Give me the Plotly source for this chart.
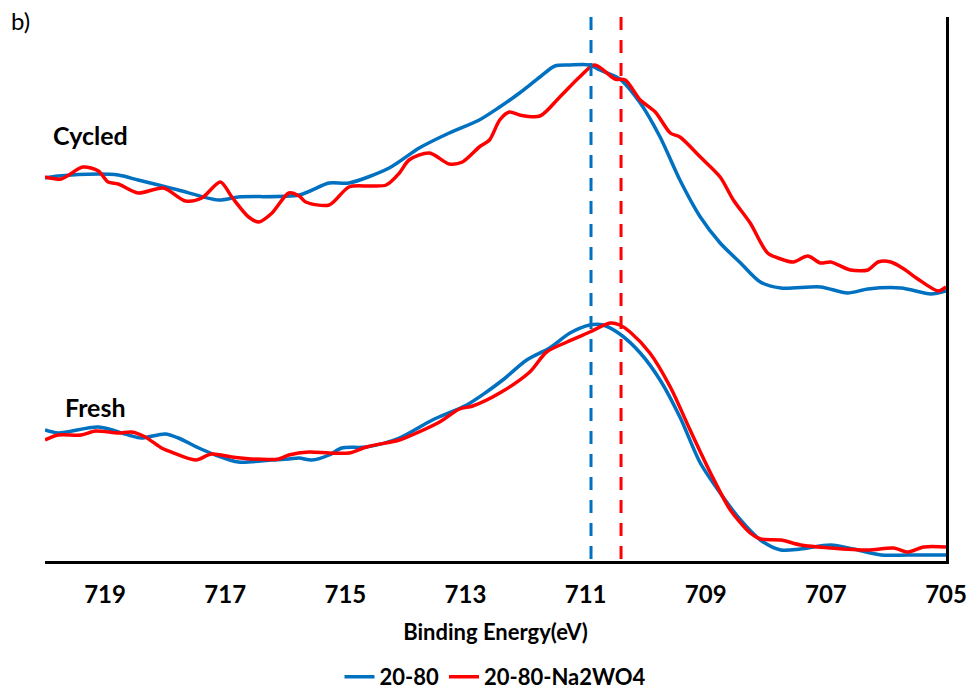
import plotly.graph_objects as go

# Fe 2p3/2 region, binding energy (eV) vs normalized intensity (a.u., offset stacks)
cycled_2080_be = [720.00, 719.78, 719.11, 718.78, 718.45, 718.11, 717.78, 717.11, 716.78,
                  715.77, 715.27, 714.94, 714.27, 713.77, 713.27, 712.77, 712.43, 712.10,
                  711.76, 711.51, 711.26, 710.93, 710.76, 710.43, 710.09, 709.76, 709.43,
                  709.09, 708.76, 708.42, 708.09, 707.75, 707.09, 706.64, 706.30, 705.75,
                  705.25, 705.00]
cycled_2080_int = [3.84, 3.86, 3.88, 3.87, 3.82, 3.77, 3.72, 3.62, 3.65,
                   3.67, 3.79, 3.79, 3.94, 4.14, 4.29, 4.42, 4.55, 4.69,
                   4.85, 4.96, 4.97, 4.97, 4.92, 4.83, 4.59, 4.25, 3.82,
                   3.45, 3.19, 2.99, 2.80, 2.74, 2.75, 2.69, 2.73, 2.74,
                   2.68, 2.71]

cycled_na_be = [720.00, 719.73, 719.37, 719.11, 718.95, 718.78, 718.45, 718.03, 717.66,
                717.39, 717.08, 716.89, 716.61, 716.44, 716.22, 715.94, 715.77, 715.66,
                715.27, 714.94, 714.60, 714.32, 714.10, 713.94, 713.60, 713.27, 713.05,
                712.77, 712.60, 712.43, 712.27, 712.10, 711.76, 711.43, 711.10, 710.85,
                710.51, 710.34, 710.09, 709.84, 709.59, 709.43, 709.09, 708.76, 708.54,
                708.26, 707.97, 707.75, 707.54, 707.30, 707.09, 706.92, 706.59, 706.30,
                706.13, 705.92, 705.70, 705.47, 705.13, 705.00]
cycled_na_int = [3.85, 3.83, 3.95, 3.91, 3.80, 3.78, 3.69, 3.74, 3.61,
                 3.64, 3.80, 3.65, 3.45, 3.40, 3.49, 3.69, 3.66, 3.60,
                 3.57, 3.75, 3.76, 3.77, 3.89, 4.02, 4.09, 3.98, 4.00,
                 4.15, 4.22, 4.42, 4.50, 4.47, 4.46, 4.65, 4.85, 4.97,
                 4.83, 4.82, 4.62, 4.50, 4.29, 4.25, 4.05, 3.85, 3.62,
                 3.39, 3.09, 3.03, 3.00, 3.06, 2.99, 3.00, 2.92, 2.92,
                 3.00, 3.00, 2.93, 2.83, 2.71, 2.75]

fresh_2080_be = [720.00, 719.78, 719.11, 718.61, 718.40, 718.00, 717.78, 717.44, 717.16,
                 716.78, 716.22, 715.94, 715.77, 715.56, 715.27, 715.06, 714.65, 714.10,
                 713.55, 712.98, 712.65, 712.38, 711.98, 711.60, 711.26, 710.93, 710.71,
                 710.43, 710.09, 709.76, 709.43, 709.09, 708.76, 708.42, 708.09, 707.75,
                 707.42, 706.92, 706.54, 706.08, 705.63, 705.00]
fresh_2080_int = [1.32, 1.29, 1.35, 1.27, 1.24, 1.28, 1.24, 1.14, 1.07,
                  1.00, 1.02, 1.03, 1.04, 1.02, 1.07, 1.14, 1.15, 1.24,
                  1.42, 1.57, 1.70, 1.82, 2.02, 2.14, 2.29, 2.37, 2.37,
                  2.28, 2.09, 1.82, 1.45, 0.99, 0.69, 0.42, 0.22, 0.12,
                  0.13, 0.17, 0.13, 0.07, 0.07, 0.07]

fresh_na_be = [720.00, 719.78, 719.40, 719.16, 718.78, 718.56, 718.33, 718.06, 717.90,
               717.49, 717.23, 716.89, 716.56, 716.11, 715.94, 715.61, 715.27, 714.94,
               714.65, 714.10, 713.89, 713.43, 713.10, 712.88, 712.43, 711.93, 711.65,
               711.31, 710.93, 710.59, 710.43, 710.26, 709.93, 709.59, 709.26, 708.92,
               708.59, 708.26, 708.09, 707.75, 707.42, 706.92, 706.30, 705.87, 705.63,
               705.37, 705.00]
fresh_na_int = [1.22, 1.27, 1.27, 1.31, 1.29, 1.30, 1.25, 1.14, 1.10,
                1.02, 1.08, 1.05, 1.03, 1.03, 1.07, 1.10, 1.09, 1.09,
                1.15, 1.22, 1.27, 1.40, 1.53, 1.56, 1.69, 1.90, 2.10,
                2.20, 2.30, 2.39, 2.37, 2.30, 2.09, 1.75, 1.32, 0.89,
                0.52, 0.29, 0.23, 0.22, 0.17, 0.14, 0.12, 0.14, 0.10,
                0.15, 0.15]

# Peak positions marked by dashed guides
peak_2080 = 710.91
peak_na = 710.41

tick_vals = [719, 717, 715, 713, 711, 709, 707, 705]
series_names = ["20-80", "20-80-Na2WO4"]

BLUE = "#0070C0"
RED = "#FF0000"
FONT = "Lato"

# plot-area geometry in pixels, used to place paper-referenced text
PLOT_L, PLOT_W, PLOT_B, PLOT_H = 45, 901, 561, 544


def py(pix_y):
    return (PLOT_B - pix_y) / PLOT_H


def px(pix_x):
    return (pix_x - PLOT_L) / PLOT_W


fig = go.Figure()

for be, inten, color, name, show in [
    (cycled_2080_be, cycled_2080_int, BLUE, series_names[0], False),
    (cycled_na_be, cycled_na_int, RED, series_names[1], False),
    (fresh_2080_be, fresh_2080_int, BLUE, series_names[0], True),
    (fresh_na_be, fresh_na_int, RED, series_names[1], True),
]:
    fig.add_trace(go.Scatter(
        x=be, y=inten, mode="lines", name=name, legendgroup=name,
        showlegend=show,
        line=dict(color=color, width=3.5, shape="spline", smoothing=0.8),
        hoverinfo="skip",
    ))

fig.data[2].legendrank = 1
fig.data[3].legendrank = 2

for xpos, color in [(peak_2080, BLUE), (peak_na, RED)]:
    fig.add_shape(type="line", xref="x", yref="paper", x0=xpos, x1=xpos,
                  y0=1.0, y1=0.0,
                  line=dict(color=color, width=3, dash="13px,10px"))

fig.add_annotation(text="<b>Cycled</b>", xref="paper", yref="paper",
                   x=px(90), y=py(135), xanchor="center", yanchor="middle",
                   showarrow=False, font=dict(family=FONT, size=25, color="black"))
fig.add_annotation(text="<b>Fresh</b>", xref="paper", yref="paper",
                   x=px(95), y=py(407), xanchor="center", yanchor="middle",
                   showarrow=False, font=dict(family=FONT, size=25, color="black"))
fig.add_annotation(text="b)", xref="paper", yref="paper",
                   x=px(20), y=py(21), xanchor="center", yanchor="middle",
                   showarrow=False, font=dict(family=FONT, size=24, color="black"))

fig.update_layout(
    width=967, height=691,
    margin=dict(l=PLOT_L, r=967 - PLOT_L - PLOT_W, t=PLOT_B - PLOT_H,
                b=691 - PLOT_B, autoexpand=False),
    plot_bgcolor="white", paper_bgcolor="white",
    font=dict(family=FONT, color="black"),
    showlegend=True,
    legend=dict(orientation="h", x=0.5, xanchor="center", y=py(677),
                yanchor="middle", font=dict(family=FONT, size=22, color="black",
                                            weight="bold"),
                itemwidth=30, bgcolor="rgba(0,0,0,0)"),
    xaxis=dict(
        range=[720, 705], tickvals=tick_vals,
        ticktext=[f"<b>{v}</b>" for v in tick_vals],
        tickfont=dict(family=FONT, size=24, color="black"),
        ticks="", ticklabelstandoff=10, automargin=False,
        showline=True, linecolor="black", linewidth=2.5,
        showgrid=False, zeroline=False,
        title=dict(text="<b>Binding Energy(eV)</b>",
                   font=dict(family=FONT, size=22, color="black"), standoff=19),
    ),
    yaxis=dict(
        range=[0.01, 5.45], side="right", automargin=False,
        showline=True, linecolor="black", linewidth=2.5,
        showticklabels=False, ticks="", showgrid=False, zeroline=False,
    ),
)

fig.write_html("out.html")
